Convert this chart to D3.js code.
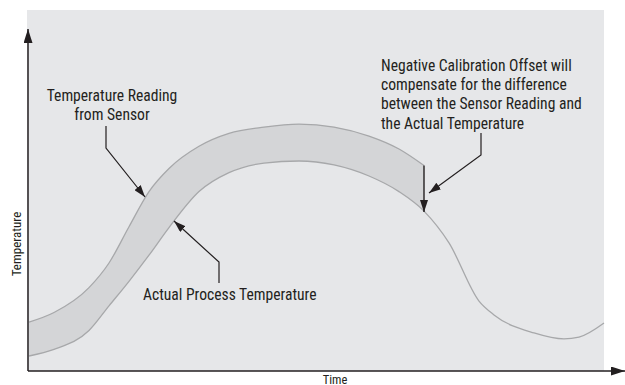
<!DOCTYPE html>
<html>
<head>
<meta charset="utf-8">
<script src="https://cdn.jsdelivr.net/npm/d3@7"></script>
<style>
  html, body { margin: 0; padding: 0; background: #ffffff; }
  svg { display: block; }
  text { font-family: "Liberation Sans Narrow", "Arial Narrow", "Roboto Condensed", sans-serif; fill: #231f20; }
</style>
</head>
<body>
<svg id="chart" width="625" height="385"></svg>
<script>
// time axis (arbitrary units) and the two temperature traces
const time = [0, 5, 12, 16, 20, 24, 28, 34, 40, 47, 54, 61, 68, 74, 79, 84, 90, 93, 101, 107, 110, 115];
const sensorReading = [16.3, 19.5, 27.8, 36, 48.1, 59.8, 67.5, 74.9, 79.2, 81.3, 82.3, 81.3, 78.3, 74, 68.5];
const actualTemp = [5, 7.2, 13.5, 21.7, 29.9, 38.6, 47.8, 59.8, 66.1, 69.3, 70, 68.7, 65, 59.8, 53.3, 42.7, 23.3, 18.7, 12.7, 10.7, 11.3, 16];

const axisLabels = ["Time", "Temperature"];

// leader lines in data units, last point is the arrow tip
const sensorLeader = [[15.4, 81.7], [15.4, 74.3], [23.2, 58]];
const actualLeader = [[38, 29.3], [38, 36.3], [29, 50]];
const offsetLeader = [[90.4, 79.3], [90.4, 72], [80, 59.3]];

const sensorLines = ["Temperature Reading", "from Sensor"];
const actualLines = ["Actual Process Temperature"];
const offsetLines = ["Negative Calibration Offset will", "compensate for the difference",
                     "between the Sensor Reading and", "the Actual Temperature"];

const svg = d3.select("#chart");
const ink = "#231f20";

const x = d3.scaleLinear().domain([0, 115]).range([29, 604]);
const y = d3.scaleLinear().domain([0, 120]).range([371, 11]);

// grey plot background
svg.append("rect")
    .attr("x", 27).attr("y", 10)
    .attr("width", 577).attr("height", 361)
    .attr("fill", "#e6e7e9");

const defs = svg.append("defs");
function addMarker(id, len, half) {
    defs.append("marker")
        .attr("id", id)
        .attr("markerUnits", "userSpaceOnUse")
        .attr("viewBox", `0 ${-half} ${len} ${half * 2}`)
        .attr("refX", len).attr("refY", 0)
        .attr("markerWidth", len).attr("markerHeight", half * 2)
        .attr("orient", "auto")
        .append("path")
        .attr("d", `M0,${-half}L${len},0L0,${half}Z`)
        .attr("fill", ink);
}
addMarker("head", 12, 4);
addMarker("axisHead", 14, 4.5);

// band between sensor and actual
const bandData = sensorReading.map((s, i) => ({ t: time[i], s: s, a: actualTemp[i] }));
const area = d3.area()
    .x(d => x(d.t))
    .y0(d => y(d.a))
    .y1(d => y(d.s))
    .curve(d3.curveMonotoneX);

svg.append("path")
    .datum(bandData)
    .attr("d", area)
    .attr("fill", "#d4d5d7");

const line = d3.line()
    .x(d => x(d[0]))
    .y(d => y(d[1]))
    .curve(d3.curveMonotoneX);

svg.append("path")
    .datum(sensorReading.map((s, i) => [time[i], s]))
    .attr("d", line)
    .attr("fill", "none")
    .attr("stroke", "#a7a8aa")
    .attr("stroke-width", 1.3);

svg.append("path")
    .datum(actualTemp.map((a, i) => [time[i], a]))
    .attr("d", line)
    .attr("fill", "none")
    .attr("stroke", "#a7a8aa")
    .attr("stroke-width", 1.3);

// axes
svg.append("line")
    .attr("x1", x(0) - 1).attr("y1", y(0))
    .attr("x2", x(0) - 1).attr("y2", 29)
    .attr("stroke", ink).attr("stroke-width", 1.5)
    .attr("marker-end", "url(#axisHead)");

svg.append("line")
    .attr("x1", x(0) - 1).attr("y1", y(0))
    .attr("x2", 625).attr("y2", y(0))
    .attr("stroke", ink).attr("stroke-width", 1.5)
    .attr("marker-end", "url(#axisHead)");

svg.append("text")
    .attr("x", 335).attr("y", 383.5)
    .attr("text-anchor", "middle")
    .style("font-size", "12.5px")
    .text(axisLabels[0]);

svg.append("text")
    .attr("transform", "translate(20.5,244) rotate(-90)")
    .attr("text-anchor", "middle")
    .style("font-size", "13px")
    .text(axisLabels[1]);

// leaders
const leader = d3.line().x(d => x(d[0])).y(d => y(d[1]));
[sensorLeader, actualLeader, offsetLeader].forEach(pts => {
    svg.append("path")
        .attr("d", leader(pts))
        .attr("fill", "none")
        .attr("stroke", ink)
        .attr("stroke-width", 1.2)
        .attr("marker-end", "url(#head)");
});

// offset arrow at the end of the band
const last = sensorReading.length - 1;
svg.append("line")
    .attr("x1", x(time[last])).attr("y1", y(sensorReading[last]))
    .attr("x2", x(time[last])).attr("y2", y(actualTemp[last]) + 1)
    .attr("stroke", ink)
    .attr("stroke-width", 1.4)
    .attr("marker-end", "url(#head)");

function textBlock(lines, px, py, anchor) {
    svg.append("g").selectAll("text")
        .data(lines)
        .enter().append("text")
        .attr("x", px)
        .attr("y", (d, i) => py + i * 19.2)
        .attr("text-anchor", anchor)
        .style("font-size", "15.6px")
        .text(d => d);
}
textBlock(sensorLines, 112, 101, "middle");
textBlock(actualLines, 143, 300, "start");
textBlock(offsetLines, 381, 71, "start");
</script>
</body>
</html>
